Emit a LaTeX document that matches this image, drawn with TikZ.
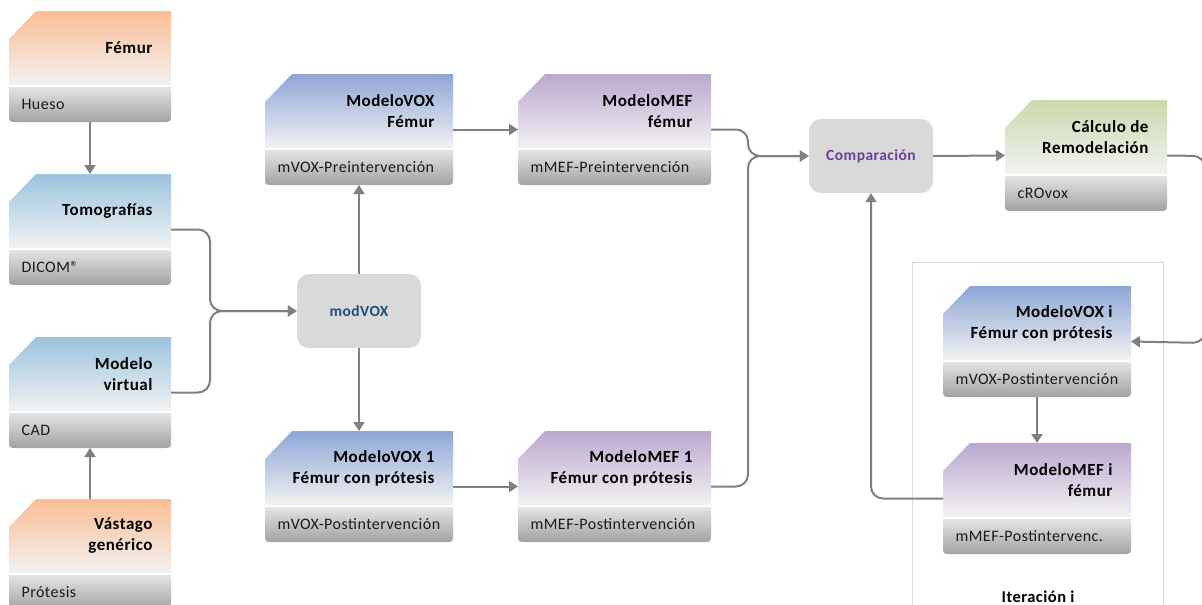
\documentclass[tikz,border=0pt]{standalone}
\usepackage{fontspec}
\setmainfont{Carlito}
\usetikzlibrary{arrows.meta}
\definecolor{cOrange}{HTML}{FBBE95}
\definecolor{cBlue}{HTML}{9BC4DE}
\definecolor{cVox}{HTML}{8EA6D6}
\definecolor{cMef}{HTML}{BBA8CF}
\definecolor{cGreen}{HTML}{CAD9AC}
\definecolor{cPale}{HTML}{F2F2F2}
\definecolor{cFootTop}{HTML}{E4E4E4}
\definecolor{cFootBot}{HTML}{A2A2A2}
\definecolor{cLine}{HTML}{808080}
\definecolor{cProc}{HTML}{D9D9D9}
\definecolor{cFrame}{HTML}{D9D9D9}
\definecolor{cModvox}{HTML}{1F4E79}
\definecolor{cComp}{HTML}{6E3F98}
\definecolor{cText}{HTML}{1A1A1A}
\newfontfamily\spacedfont[LetterSpace=3]{Carlito}
\tikzset{
  conn/.style={draw=cLine, line width=2pt, rounded corners=12pt, -{Triangle[length=9pt,width=11pt]}},
  proc/.style={fill=cProc, rounded corners=12pt, minimum width=124pt, minimum height=74pt, inner sep=0pt, font=\spacedfont\bfseries\fontsize{15.5}{18}\selectfont},
  titletext/.style={anchor=east, align=right, text=black, font=\spacedfont\bfseries\fontsize{17}{21}\selectfont},
  foottext/.style={anchor=west, text=cText, font=\spacedfont\fontsize{16}{18}\selectfont},
  cardnode/.style={inner sep=0pt, outer sep=0pt, minimum height=111pt}
}
\newcommand\mkcard[7]{%
  \shade[top color=#5, middle color=#5!35!cPale, bottom color=cPale]
    (#2,#3+28) -- (#2+27,#3) -- (#2+#4,#3) -- (#2+#4,#3+74) -- (#2,#3+74) -- cycle;
  \shade[top color=cFootTop, bottom color=cFootBot]
    (#2,#3+76) -- (#2+#4,#3+76) -- (#2+#4,#3+103) .. controls (#2+#4,#3+111) .. (#2+#4-8,#3+111)
    -- (#2+8,#3+111) .. controls (#2,#3+111) .. (#2,#3+103) -- cycle;
  \node[cardnode, minimum width=#4pt] (#1) at (#2+#4/2,#3+55.5) {};
  \node[titletext] (#1-t) at (#2+#4-15,#3+37) {#6};
  \node[foottext] (#1-f) at (#2+9,#3+93) {#7};
}
\begin{document}
\begin{tikzpicture}[x=1pt,y=-1pt]
\useasboundingbox (0,0) rectangle (1202,605);
\fill[white] (0,0) rectangle (1202,605);
% iteration frame
\draw[cFrame, line width=1pt] (912,262) rectangle (1163,640);
\node[font=\spacedfont\bfseries\fontsize{16.5}{19}\selectfont] (iterlbl) at (1038,597) {Iteración i};
% cards
\mkcard{fem}{9}{11}{162}{cOrange}{Fémur}{Hueso}
\mkcard{tom}{9}{174}{162}{cBlue}{Tomografías}{DICOM®}
\mkcard{mv}{9}{337}{162}{cBlue}{Modelo\\virtual}{CAD}
\mkcard{vas}{9}{499}{162}{cOrange}{Vástago\\genérico}{Prótesis}
\mkcard{vox}{265}{74}{188}{cVox}{ModeloVOX\\Fémur}{mVOX-Preintervención}
\mkcard{mef}{518}{74}{193}{cMef}{ModeloMEF\\fémur}{mMEF-Preintervención}
\mkcard{voxa}{265}{431}{188}{cVox}{ModeloVOX 1\\Fémur con prótesis}{mVOX-Postintervención}
\mkcard{mefa}{518}{431}{193}{cMef}{ModeloMEF 1\\Fémur con prótesis}{mMEF-Postintervención}
\mkcard{calc}{1005}{100}{162}{cGreen}{Cálculo de\\Remodelación}{cROvox}
\mkcard{voxi}{943}{286}{188}{cVox}{ModeloVOX i\\Fémur con prótesis}{mVOX-Postintervención}
\mkcard{mefi}{943}{443}{188}{cMef}{ModeloMEF i\\fémur}{mMEF-Postintervenc.}
% process boxes
\node[proc, text=cModvox] (modvox) at (359,311) {modVOX};
\node[proc, text=cComp] (comp) at (871,156) {Comparación};
% junctions
\coordinate (j1) at (210,311);
\coordinate (j2) at (748,156);
\coordinate (r1) at (1205,156);
\coordinate (r2) at (1205,343);
% connectors
\draw[conn] (fem.south) -- (tom.north);
\draw[conn] (vas.north) -- (mv.south);
\draw[conn] (tom.east) -| (j1) -- (modvox.west);
\draw[conn] (mv.east) -| (j1) -- (modvox.west);
\draw[conn] (modvox.north) -- (vox.south);
\draw[conn] (modvox.south) -- (voxa.north);
\draw[conn] (vox.east) -- (mef.west);
\draw[conn] (voxa.east) -- (mefa.west);
\draw[conn] (mef.east) -| (j2) -- (comp.west);
\draw[conn] (mefa.east) -| (j2) -- (comp.west);
\draw[conn] (comp.east) -- (calc.west);
\draw[conn] (calc.east) -- (r1) -- (r2) -- (voxi.east);
\draw[conn] (voxi.south) -- (mefi.north);
\draw[conn] (mefi.west) -| (comp.south);
\end{tikzpicture}
\end{document}
